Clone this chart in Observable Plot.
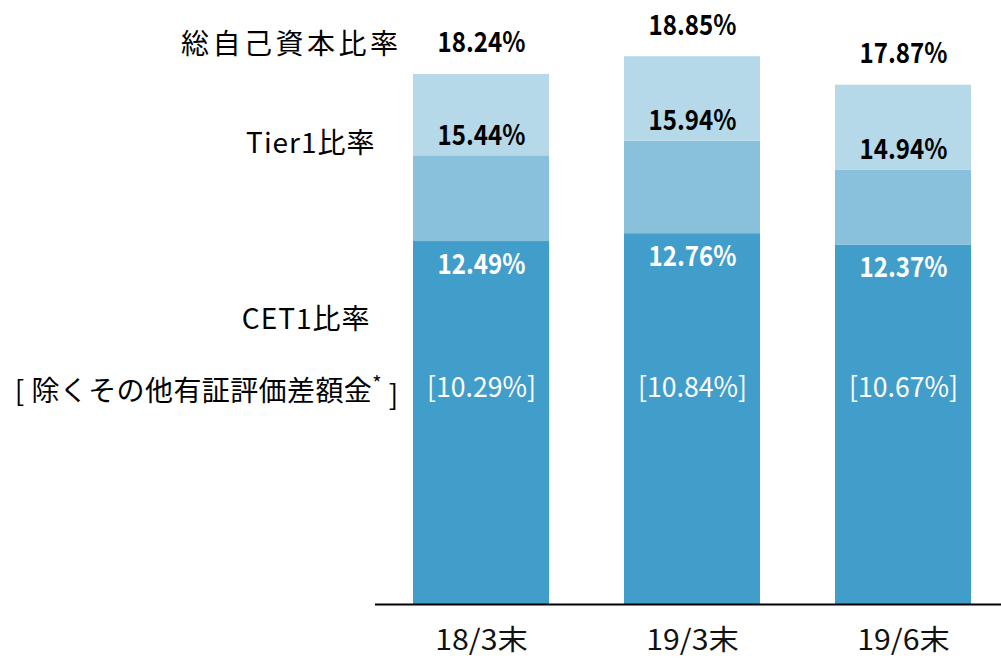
<!DOCTYPE html>
<html><head><meta charset="utf-8">
<script src="https://cdn.jsdelivr.net/npm/d3@7"></script>
<script src="https://cdn.jsdelivr.net/npm/@observablehq/plot@0.6"></script>
<style>body{margin:0;background:#fff}svg{overflow:visible}</style>
</head><body><div id="chart"></div>
<script>
const categories = ["18/3末", "19/3末", "19/6末"];
const totalRatio = [18.24, 18.85, 17.87];
const tier1Ratio = [15.44, 15.94, 14.94];
const cet1Ratio = [12.49, 12.76, 12.37];
const cet1ExclRatio = [10.29, 10.84, 10.67];
const seriesLabels = ["総自己資本比率", "Tier1比率", "CET1比率", "[ 除くその他有証評価差額金* ]"];

const rows = categories.map((c, i) => ({
  cat: c, total: totalRatio[i], tier1: tier1Ratio[i], cet1: cet1Ratio[i], excl: cet1ExclRatio[i]
}));
const first = [rows[0]];
const pct = v => v.toFixed(2) + "%";
const jp = "'Noto Sans CJK JP', sans-serif";
const pxPerUnit = 29.06;

const chart = Plot.plot({
  width: 1001, height: 658,
  marginLeft: 375, marginRight: 0, marginTop: 0, marginBottom: 54,
  style: {fontFamily: jp, background: "#fff", overflow: "visible"},
  x: {domain: categories, range: [375, 1008], paddingInner: 0.357, paddingOuter: 0.175, align: 0.5},
  y: {domain: [0, 20], range: [604, 604 - 20 * pxPerUnit], axis: null},
  marks: [
    Plot.barY(rows, {x: "cat", y1: 0, y2: "cet1", fill: "#419dc9"}),
    Plot.barY(rows, {x: "cat", y1: "cet1", y2: "tier1", fill: "#89c0db"}),
    Plot.barY(rows, {x: "cat", y1: "tier1", y2: "total", fill: "#b5d9e9"}),
    Plot.ruleY([0], {stroke: "#000", strokeWidth: 2}),
    Plot.axisX({tickSize: 0, tickPadding: 37, lineAnchor: "middle", fontSize: 28, label: null, fill: "#111", className: "xtick"}),
    Plot.text(rows, {x: "cat", y: "total", text: d => pct(d.total), dy: -31, fontSize: 28, fontWeight: "bold", fill: "#000", className: "num"}),
    Plot.text(rows, {x: "cat", y: "tier1", text: d => pct(d.tier1), dy: -20, fontSize: 28, fontWeight: "bold", fill: "#000", className: "num"}),
    Plot.text(rows, {x: "cat", y: "cet1", text: d => pct(d.cet1), dy: 23, fontSize: 28, fontWeight: "bold", fill: "#fff", className: "num"}),
    Plot.text(rows, {x: "cat", y: () => 7.45, text: d => "[" + pct(d.excl) + "]", fontSize: 28, fill: "#fff", className: "bracket"}),
    Plot.text(first, {x: "cat", y: "total", text: () => seriesLabels[0], textAnchor: "end", dx: -80, dy: -29.5, fontSize: 28, fill: "#000"}),
    Plot.text(first, {x: "cat", y: "tier1", text: () => seriesLabels[1], textAnchor: "end", dx: -106, dy: -12, fontSize: 28, fill: "#000"}),
    Plot.text(first, {x: "cat", y: () => 9.8, text: () => seriesLabels[2], textAnchor: "end", dx: -111, fontSize: 28, fill: "#000"}),
    Plot.text(first, {x: "cat", y: () => 7.3, text: () => seriesLabels[3], textAnchor: "end", dx: -83, fontSize: 28, fill: "#000"})
  ]
});
document.getElementById("chart").appendChild(chart);

const svg = d3.select(chart);
// condensed look for the numeric labels
svg.selectAll("g.num text, g.xtick text, g.bracket text").each(function () {
  const L = this.getComputedTextLength();
  const cls = this.parentNode.classList;
  const k = cls.contains("xtick") ? 1.08 : cls.contains("bracket") ? 0.95 : 0.86;
  this.setAttribute("textLength", (L * k).toFixed(1));
  this.setAttribute("lengthAdjust", "spacingAndGlyphs");
});
svg.selectAll("text").each(function () {
  const t = this.textContent;
  if (t === seriesLabels[0]) this.style.letterSpacing = "3.5px";
  if (t === seriesLabels[1] || t === seriesLabels[2]) this.style.letterSpacing = "1px";
  if (t.includes("*") && this.childElementCount === 0) {
    this.style.letterSpacing = "0.4px";
    const [a, b] = t.split("*");
    const el = d3.select(this);
    el.text(null);
    el.append("tspan").text(a);
    el.append("tspan").attr("dy", "-0.5em").attr("font-size", "20").text("*");
    el.append("tspan").attr("dy", "0.5em").text(b);
  }
});
</script>
</body></html>
